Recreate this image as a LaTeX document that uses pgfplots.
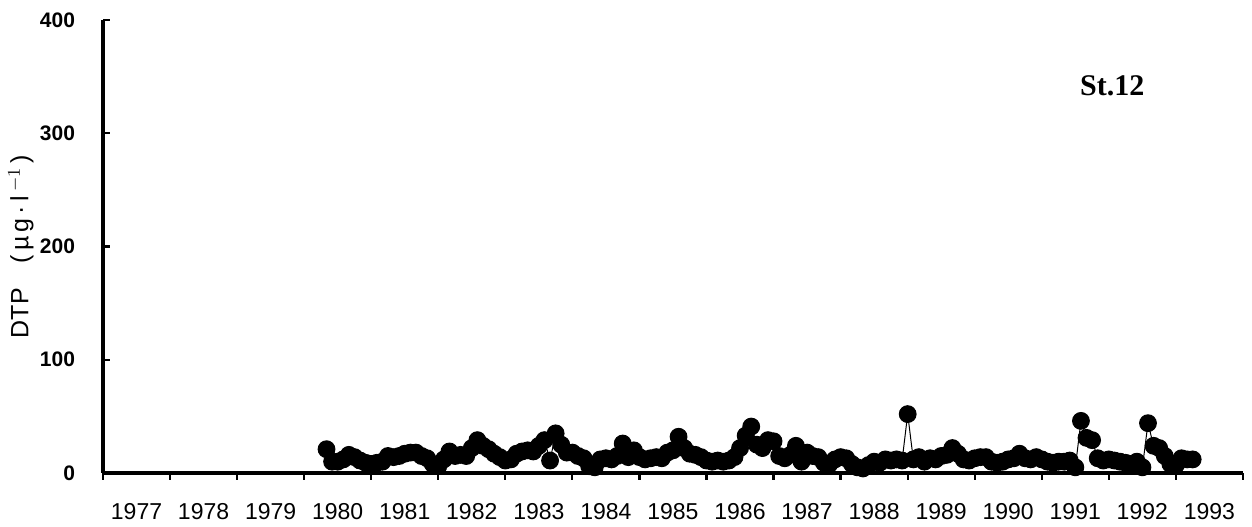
\documentclass[border=0pt]{standalone}
\usepackage{pgfplots}
\pgfplotsset{compat=1.18}
\usepackage{pgfplotstable}
\usepackage{fontspec}
\setmainfont{Liberation Sans}
\newfontfamily\timesfont{Liberation Serif}

\pgfplotstableread{
i v
0 21
1 10
2 10
3 12
4 16
5 14
6 11
7 9
8 8
9 9
10 10
11 15
12 14
13 15
14 17
15 18
16 18
17 15
18 13
19 8
20 6
21 12
22 19
23 15
24 16
25 15
26 22
27 29
28 24
29 21
30 17
31 14
32 11
33 12
34 17
35 19
36 20
37 19
38 24
39 29
40 11
41 35
42 25
43 18
44 18
45 15
46 13
47 6
48 5
49 12
50 13
51 12
52 15
53 26
54 14
55 20
56 14
57 12
58 13
59 14
60 13
61 18
62 20
63 32
64 22
65 17
66 16
67 14
68 11
69 10
70 11
71 10
72 11
73 14
74 22
75 33
76 41
77 25
78 22
79 29
80 28
81 15
82 13
83 16
84 24
85 10
86 18
87 15
88 14
89 9
90 8
91 12
92 14
93 13
94 8
95 5
96 4
97 7
98 10
99 9
100 12
101 11
102 12
103 11
104 52
105 12
106 14
107 10
108 13
109 12
110 15
111 16
112 22
113 17
114 12
115 11
116 13
117 14
118 14
119 10
120 9
121 10
122 12
123 13
124 17
125 13
126 12
127 14
128 12
129 10
130 9
131 10
132 10
133 11
134 5
135 46
136 31
137 29
138 13
139 11
140 12
141 11
142 10
143 9
144 8
145 10
146 5
147 44
148 24
149 22
150 15
151 8
152 7
153 13
154 12
155 12
}\dtp

\begin{document}
\begin{tikzpicture}
\begin{axis}[
  scale only axis,
  width=570pt, height=226.5pt,
  xmin=1977, xmax=1994, ymin=0, ymax=400,
  clip=false,
  axis lines*=left,
  axis line style={line width=1.7pt},
  xtick={1977,...,1994},
  x tick label as interval,
  xticklabels={1977,1978,1979,1980,1981,1982,1983,1984,1985,1986,1987,1988,1989,1990,1991,1992,1993},
  ytick={0,100,200,300,400},
  yticklabels={0,100,200,300,400},
  tick align=outside,
  major tick length=3.5pt,
  tick style={line width=1.1pt, black},
  y tick style={xshift=3.5pt},
  xticklabel style={font=\fontsize{11.5}{13}\selectfont, yshift=-8pt},
  yticklabel style={font=\bfseries\fontsize{10.5}{12}\selectfont, xshift=-7pt},
  ylabel={DTP\quad(\,µ\,g\,·\,l\,$^{-1}$\,)},
  ylabel style={at={(axis description cs:-0.072,0.5)}, anchor=center, font=\fontsize{12.5}{15}\selectfont},
]
\path (axis cs:1975.464,-43.27) rectangle (axis cs:1994.134,417.66);
\addplot[black, line width=0.5pt, mark=*, mark size=4.2pt, mark options={fill=black, solid}]
  table[x expr=1980.3333+\thisrow{i}/12, y=v] {\dtp};
\node[font=\timesfont\bfseries\fontsize{15}{18}\selectfont] at (axis cs:1992.05,341.7) {St.12};
\end{axis}
\end{tikzpicture}
\end{document}
